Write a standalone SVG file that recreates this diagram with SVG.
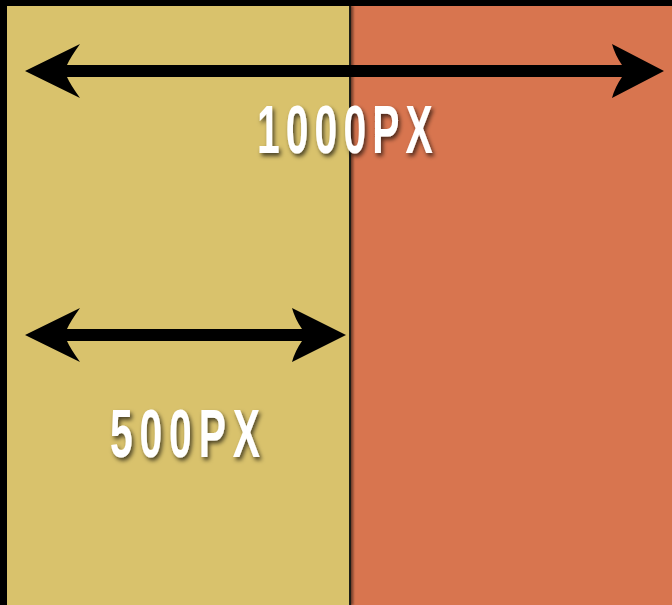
<svg xmlns="http://www.w3.org/2000/svg" width="672" height="605" viewBox="0 0 672 605">
<defs>
<style>
.lbl{font-family:"Liberation Sans","DejaVu Sans",sans-serif;font-weight:bold;font-size:68px;fill:#ffffff}
.arw{fill:#000000}
</style>
<filter id="sh" x="-20%" y="-30%" width="140%" height="170%">
<feDropShadow dx="2" dy="3" stdDeviation="2" flood-color="#000000" flood-opacity="0.65"/>
</filter>
<filter id="lsh" x="-200%" y="-5%" width="500%" height="110%">
<feDropShadow dx="2" dy="0" stdDeviation="1.2" flood-color="#000000" flood-opacity="0.5"/>
</filter>
</defs>
<rect x="0" y="0" width="672" height="605" fill="#000000"/>
<g id="left-panel"><rect x="7" y="6" width="344" height="599" fill="#D9C26C"/></g>
<g id="right-panel"><rect x="351" y="6" width="321" height="599" fill="#D8754F"/></g>
<g id="divider"><rect x="349" y="6" width="2.2" height="599" fill="#1c1a12" filter="url(#lsh)"/></g>
<g id="connectors">
<g id="arrow-1000">
<path class="arw" d="M25,71 L80,44 Q70,58 67,65 L622,65 Q615,55 612,44 L664,71 L612,98 Q615,87 622,77 L67,77 Q70,84 80,98 Z"/>
</g>
<g id="arrow-500">
<path class="arw" d="M25,335 L80,308 Q70,322 67,329 L302,329 Q295,319 292,308 L346,335 L292,362 Q295,351 302,341 L67,341 Q70,348 80,362 Z"/>
</g>
</g>
<g id="label-1000" filter="url(#sh)"><text class="lbl" transform="translate(257,153) scale(0.6,1)" x="0" y="0" textLength="293" lengthAdjust="spacing">1000PX</text></g>
<g id="label-500" filter="url(#sh)"><text class="lbl" transform="translate(110,457) scale(0.6,1)" x="0" y="0" textLength="250" lengthAdjust="spacing">500PX</text></g>
</svg>
